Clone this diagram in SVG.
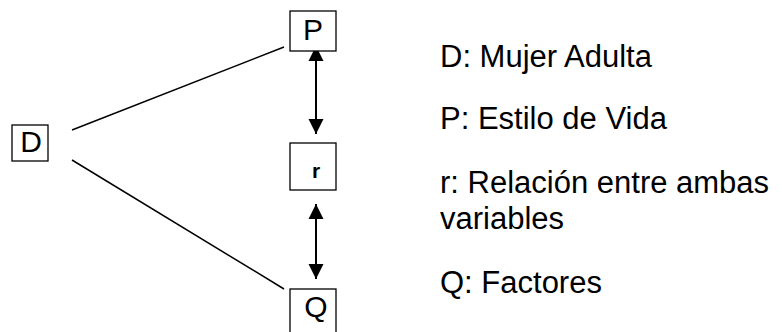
<svg xmlns="http://www.w3.org/2000/svg" width="782" height="332" viewBox="0 0 782 332">
<style>
.box{fill:#fff;stroke:#000;stroke-width:1.3}
.lbl{font-family:"Liberation Sans",Arial,sans-serif;font-size:30px;fill:#000}
.leg{font-family:"Liberation Sans",Arial,sans-serif;font-size:31px;fill:#000}
.ln{stroke:#000;stroke-width:1.5;fill:none}
.ar{stroke:#000;stroke-width:2;fill:none}
</style>
<defs>
<marker id="ah" viewBox="0 0 10 10" refX="10" refY="5" markerWidth="15" markerHeight="16" markerUnits="userSpaceOnUse" orient="auto-start-reverse">
<path d="M0,0 L10,5 L0,10 z" fill="#000"/>
</marker>
</defs>
<g id="connectors">
<line class="ln" x1="72" y1="130" x2="284" y2="47"/>
<line class="ln" x1="72" y1="160" x2="284" y2="289"/>
<line class="ar" x1="316" y1="46" x2="316" y2="134" marker-start="url(#ah)" marker-end="url(#ah)"/>
<line class="ar" x1="316" y1="204" x2="316" y2="279" marker-start="url(#ah)" marker-end="url(#ah)"/>
</g>
<g id="node-D">
<rect class="box" x="12" y="125" width="36" height="36"/>
<text class="lbl" x="31" y="152" text-anchor="middle">D</text>
</g>
<g id="node-P">
<rect class="box" x="290" y="11" width="46" height="40"/>
<text class="lbl" x="313" y="40" text-anchor="middle">P</text>
</g>
<g id="node-r">
<rect class="box" x="290" y="143" width="46" height="47"/>
<text x="316" y="178" text-anchor="middle" style="font-family:'Liberation Sans',Arial,sans-serif;font-size:21px;font-weight:bold">r</text>
</g>
<g id="node-Q">
<rect class="box" x="290" y="289" width="46" height="60"/>
<text class="lbl" x="316" y="317" text-anchor="middle">Q</text>
</g>
<g id="legend">
<text class="leg" x="440" y="67">D: Mujer Adulta</text>
<text class="leg" x="440" y="129">P: Estilo de Vida</text>
<text class="leg" x="440" y="193">r: Relación entre ambas</text>
<text class="leg" x="440" y="229">variables</text>
<text class="leg" x="440" y="293">Q: Factores</text>
</g>
</svg>
